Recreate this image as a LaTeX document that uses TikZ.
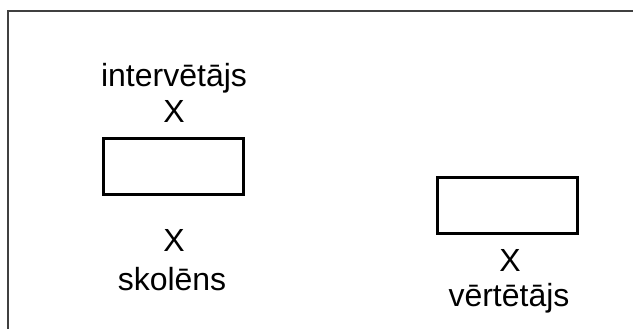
\documentclass[tikz,border=0pt]{standalone}
\usepackage{fontspec}
\setmainfont{Liberation Sans}
\usepackage{tikz}

\tikzset{
  role/.style={anchor=base, inner sep=0pt, font=\fontsize{24}{28}\selectfont},
  seat/.style={draw, line width=2.25pt, minimum width=105pt, minimum height=42pt, inner sep=0pt},
}

\begin{document}
\begin{tikzpicture}[x=0.75pt, y=-0.75pt]
        \useasboundingbox (0,0) rectangle (633,329);
        \draw[line width=1.5pt, black!75] (8,329) |- (633,11);

        \node[role] (int) at (174, 86) {intervētājs};
        \node[role] (X0)  at (174, 122) {X};
        \node[seat] (S0)  at (173.5, 166.5) {};

        \node[role] (X1)  at (174, 251) {X};
        \node[role] (sko) at (172, 290) {skolēns};

        \node[seat] (S1)  at (507, 205) {};
        \node[role] (X2)  at (510, 271) {X};
        \node[role] (ver) at (509, 306) {vērtētājs};
      \end{tikzpicture}
\end{document}
